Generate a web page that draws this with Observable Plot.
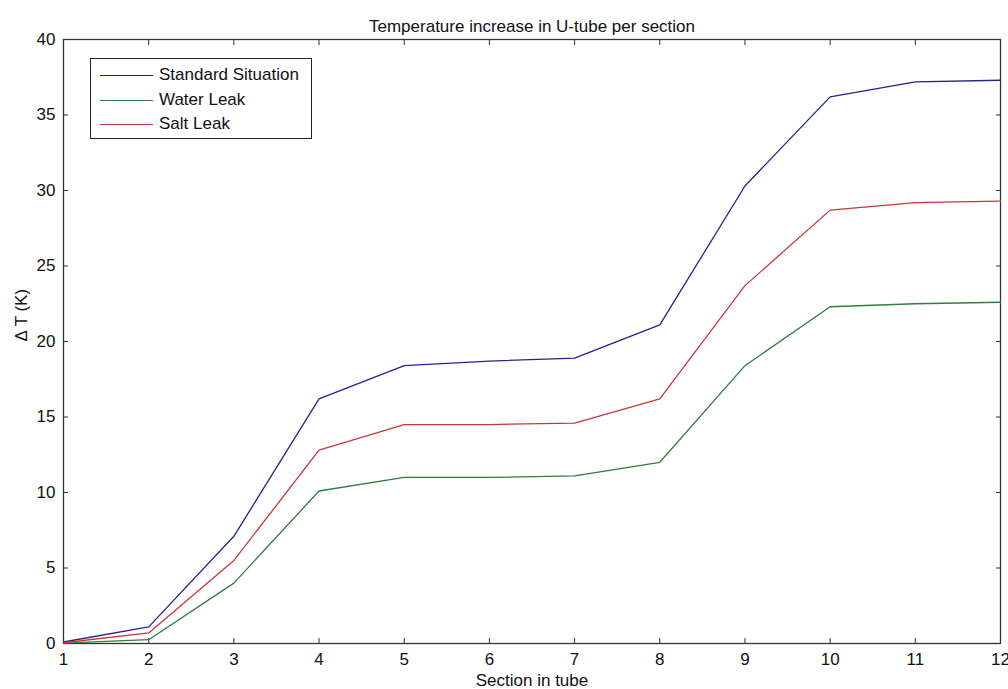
<!DOCTYPE html>
<html>
<head>
<meta charset="utf-8">
<script src="https://cdn.jsdelivr.net/npm/d3@7"></script>
<script src="https://cdn.jsdelivr.net/npm/@observablehq/plot@0.6"></script>
<style>
  html, body { margin: 0; padding: 0; background: #fff; }
  #wrap { position: relative; width: 1008px; height: 689px; font-family: "Liberation Sans", Arial, sans-serif; }
  #legend { position: absolute; left: 90px; top: 58px; width: 222px; height: 81px; border: 1px solid #222; background: #fff; box-sizing: border-box; font-size: 17px; color: #111; }
  .row { position: absolute; left: 9px; height: 22px; line-height: 22px; white-space: nowrap; }
  .sw { position: absolute; left: 0; top: 11px; width: 53px; height: 1px; }
  .lbl { position: absolute; left: 59px; top: 0; }
</style>
</head>
<body>
<div id="wrap"></div>
<script>
const sections = [1, 2, 3, 4, 5, 6, 7, 8, 9, 10, 11, 12];
const seriesNames = ["Standard Situation", "Water Leak", "Salt Leak"];
const standard = [0.1, 1.1, 7.1, 16.2, 18.4, 18.7, 18.9, 21.1, 30.3, 36.2, 37.2, 37.3];
const water    = [0.02, 0.25, 4.0, 10.1, 11.0, 11.0, 11.1, 12.0, 18.4, 22.3, 22.5, 22.6];
const salt     = [0.05, 0.7, 5.5, 12.8, 14.5, 14.5, 14.6, 16.2, 23.7, 28.7, 29.2, 29.3];
const colors = ["#23238f", "#2f7d40", "#cc3535"];
const xTicks = [1, 2, 3, 4, 5, 6, 7, 8, 9, 10, 11, 12];
const yTicks = [0, 5, 10, 15, 20, 25, 30, 35, 40];
const title = "Temperature increase in U-tube per section";
const xLabel = "Section in tube";
const yLabel = "\u0394 T (K)";

const allSeries = [standard, water, salt];
const data = [];
allSeries.forEach((vals, i) => vals.forEach((v, j) => data.push({series: seriesNames[i], x: sections[j], y: v})));

const chart = Plot.plot({
  width: 1008,
  height: 689,
  marginLeft: 63,
  marginRight: 8,
  marginTop: 39,
  marginBottom: 46,
  style: {fontFamily: "Liberation Sans, Arial, sans-serif", fontSize: "17px", color: "#111", background: "#fff"},
  x: {domain: [1, 12]},
  y: {domain: [0, 40]},
  color: {domain: seriesNames, range: colors},
  marks: [
    Plot.frame({stroke: "#333", strokeWidth: 1.3}),
    Plot.axisX(xTicks, {anchor: "bottom", tickSize: -5, tickPadding: 14, label: null, stroke: "#333", fontSize: 17}),
    Plot.axisX(xTicks, {anchor: "top", tickSize: -5, tickFormat: () => "", label: null, stroke: "#333"}),
    Plot.axisY(yTicks, {anchor: "left", tickSize: -5, tickPadding: 13, label: null, stroke: "#333", fontSize: 17}),
    Plot.axisY(yTicks, {anchor: "right", tickSize: -5, tickFormat: () => "", label: null, stroke: "#333"}),
    Plot.line(data, {x: "x", y: "y", z: "series", stroke: "series", strokeWidth: 1.3}),
    Plot.text([title], {frameAnchor: "top", lineAnchor: "middle", dy: -13, fontSize: 17, fill: "#111"}),
    Plot.text([xLabel], {frameAnchor: "bottom", lineAnchor: "middle", dy: 37, fontSize: 17, fill: "#111"}),
    Plot.text([yLabel], {frameAnchor: "left", dx: -42, rotate: -90, fontSize: 17, fill: "#111"})
  ]
});

const wrap = document.getElementById("wrap");
wrap.appendChild(chart);
const legend = document.createElement("div");
legend.id = "legend";
seriesNames.forEach((name, i) => {
  const row = document.createElement("div");
  row.className = "row";
  row.style.top = (5 + i * 24.5) + "px";
  const sw = document.createElement("div");
  sw.className = "sw";
  sw.style.background = colors[i];
  row.appendChild(sw);
  const t = document.createElement("span");
  t.className = "lbl";
  t.textContent = name;
  row.appendChild(t);
  legend.appendChild(row);
});
wrap.appendChild(legend);
</script>
</body>
</html>
